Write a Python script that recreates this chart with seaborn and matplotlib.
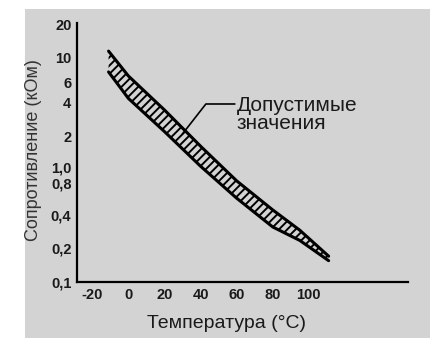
import matplotlib
matplotlib.use("Agg")
import matplotlib.pyplot as plt
from matplotlib.patches import Rectangle
from matplotlib.transforms import ScaledTranslation
from matplotlib.ticker import FixedLocator, FixedFormatter, NullLocator
import seaborn as sns
import pandas as pd

# ---- data ----
temps = [-11, 0, 20, 40, 60, 80, 95, 111]
upper_kohm = [11.5, 6.9, 3.43, 1.63, 0.80, 0.44, 0.29, 0.17]
lower_kohm = [7.5, 4.35, 2.2, 1.08, 0.56, 0.31, 0.235, 0.155]

x_ticks = [-20, 0, 20, 40, 60, 80, 100]
x_ticklabels = ["-20", "0", "20", "40", "60", "80", "100"]
y_ticks = [0.1, 0.2, 0.4, 0.8, 1.0, 2, 4, 6, 10, 20]
y_ticklabels = ["0,1", "0,2", "0,4", "0,8", "1,0", "2", "4", "6", "10", "20"]

annotation_text = "Допустимые\nзначения"
x_label = "Температура (°C)"
y_label = "Сопротивление (кОм)"

sns.set_style("white")
plt.rcParams["font.family"] = ["Liberation Sans", "DejaVu Sans"]
plt.rcParams["hatch.linewidth"] = 1.4

fig = plt.figure(figsize=(4.31, 3.38), dpi=100)
fig.patch.set_facecolor("white")
fig.patches.append(Rectangle((25 / 431, 0), 405 / 431, 329 / 338,
                             transform=fig.transFigure, facecolor="#d3d3d3",
                             edgecolor="none", zorder=-10))

ax = fig.add_axes([77 / 431, 56 / 338, 331 / 431, 259 / 338])
ax.set_facecolor("none")
ax.patch.set_alpha(0)

df = pd.DataFrame({
    "T": temps + temps,
    "R": upper_kohm + lower_kohm,
    "edge": ["upper"] * len(temps) + ["lower"] * len(temps),
})
sns.lineplot(data=df, x="T", y="R", units="edge", estimator=None,
             color="black", linewidth=2.2, ax=ax, legend=False)
ax.fill_between(temps, lower_kohm, upper_kohm, facecolor="none",
                edgecolor="black", hatch="////", linewidth=0)

ax.set_yscale("log")
ax.set_xlim(-28.5, 155)
ax.set_ylim(0.1, 20.5)

ax.xaxis.set_major_locator(FixedLocator(x_ticks))
ax.xaxis.set_major_formatter(FixedFormatter(x_ticklabels))
ax.yaxis.set_major_locator(FixedLocator(y_ticks))
ax.yaxis.set_major_formatter(FixedFormatter(y_ticklabels))
ax.yaxis.set_minor_locator(NullLocator())

for s in ["top", "right"]:
    ax.spines[s].set_visible(False)
for s in ["left", "bottom"]:
    ax.spines[s].set_linewidth(1.6)
    ax.spines[s].set_color("black")

ax.tick_params(axis="both", which="major", direction="in", length=3.5,
               width=1.5, colors="black", labelsize=10.5, pad=4)
for lab in ax.get_xticklabels() + ax.get_yticklabels():
    lab.set_fontweight("bold")
    lab.set_color("#1a1a1a")

# the "1,0" and "0,8" labels sit very close; nudge them apart slightly
nudges = {"1,0": 2.5, "0,8": -2.5}
for tick, lbl in zip(ax.yaxis.get_major_ticks(len(y_ticks)), y_ticklabels):
    if lbl in nudges:
        tick.label1.set_transform(tick.label1.get_transform() +
                                  ScaledTranslation(0, nudges[lbl] / 100,
                                                    fig.dpi_scale_trans))

ax.set_xlabel(x_label, fontsize=14, color="#1a1a1a")
ax.set_ylabel(y_label, fontsize=13, color="#333333")
ax.xaxis.set_label_coords(0.453, -0.127)
ax.yaxis.set_label_coords(-0.105, 0.51)

ax.annotate("", xy=(30, 2.1), xytext=(59, 3.88),
            arrowprops=dict(arrowstyle="-", color="black", lw=1.2,
                            connectionstyle="angle,angleA=0,angleB=52,rad=0",
                            shrinkA=0, shrinkB=0))
ax.text(60, 4.6, annotation_text, fontsize=15, color="#1a1a1a",
        ha="left", va="top", linespacing=0.95)

fig.savefig("out.png", dpi=100)
